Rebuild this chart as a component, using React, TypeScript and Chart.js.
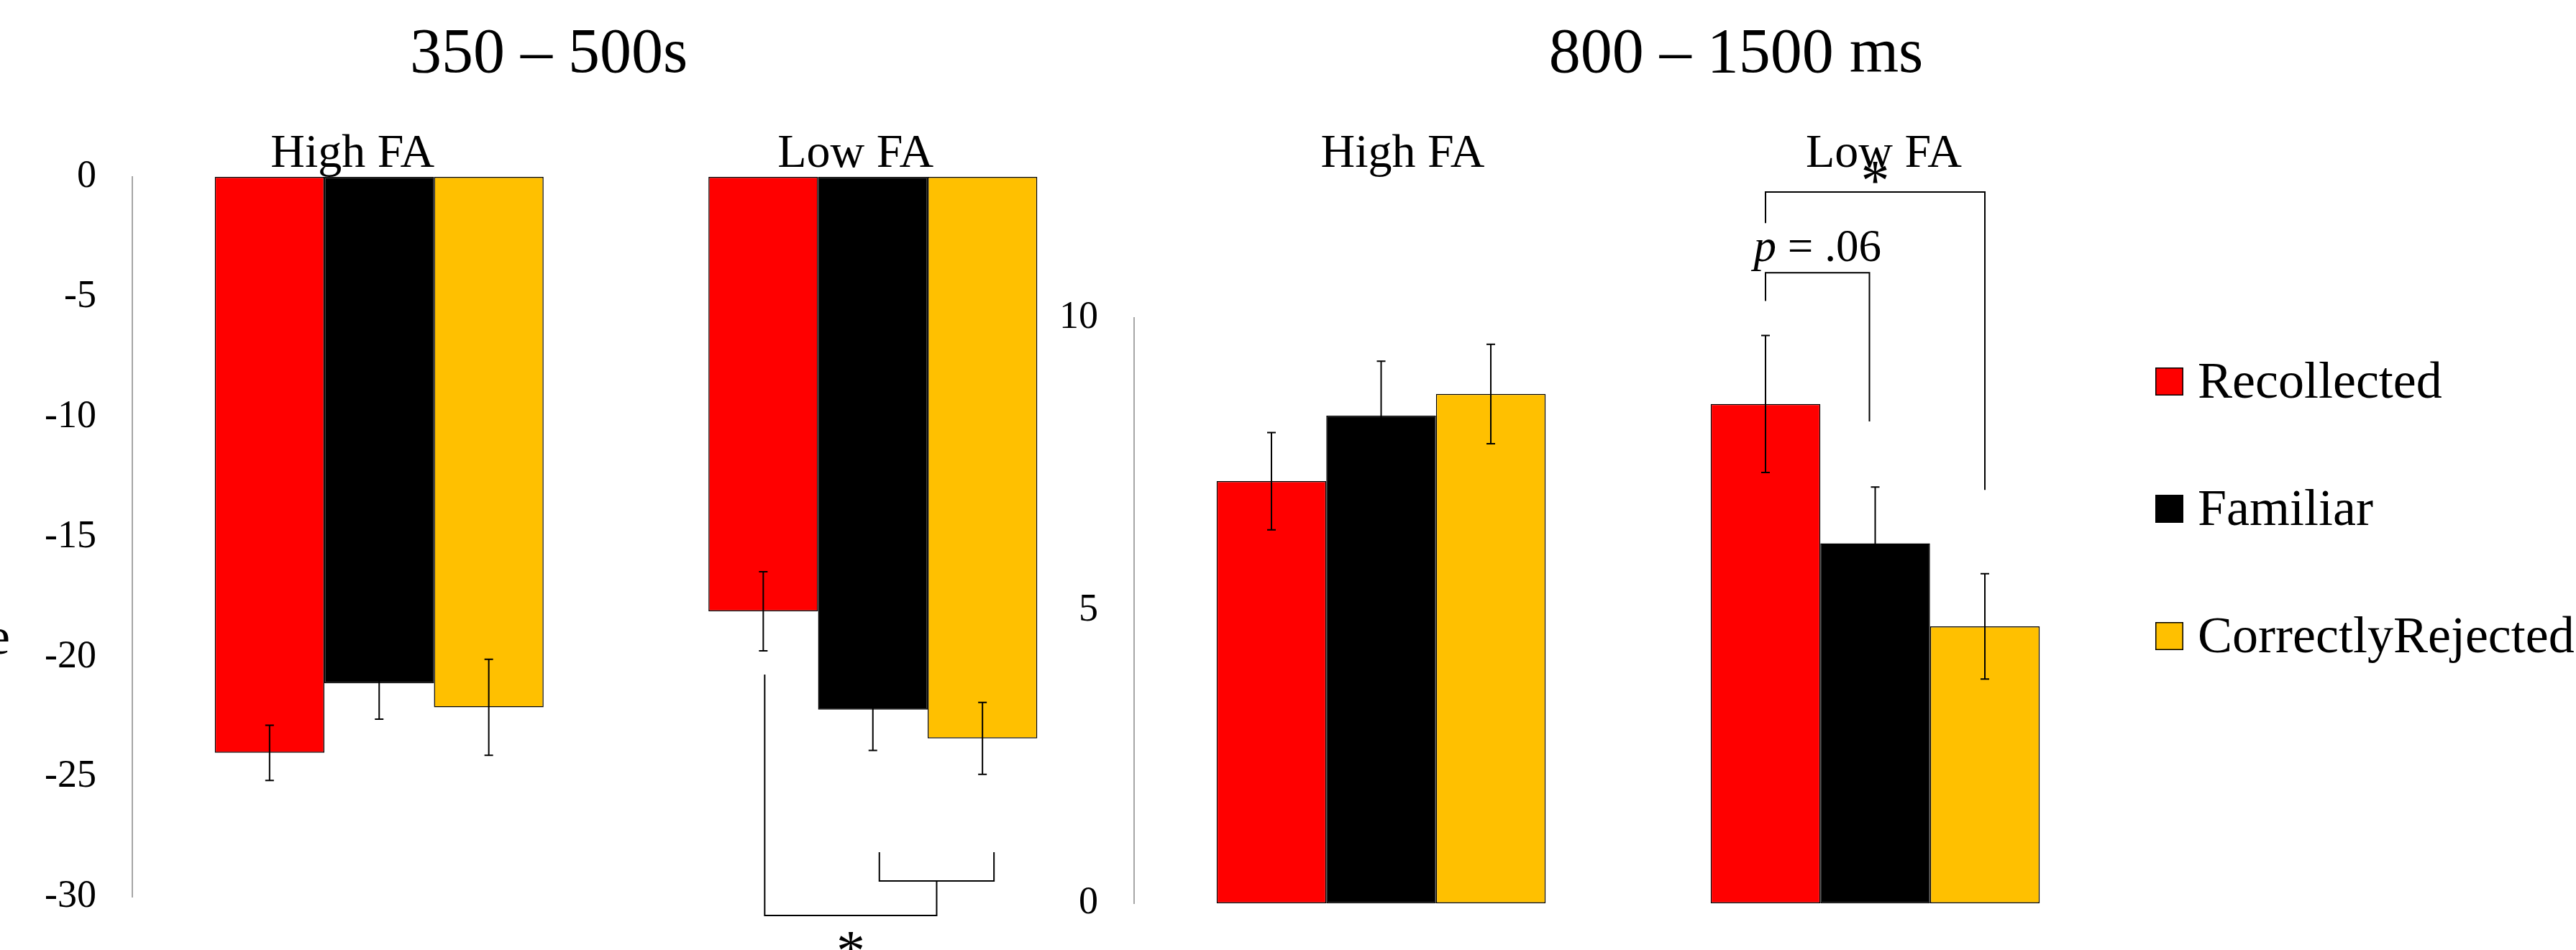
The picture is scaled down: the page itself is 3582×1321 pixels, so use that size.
import React, { useEffect, useRef } from "react";
import { Chart, registerables } from "chart.js";

Chart.register(...registerables);

// ---------------- data ----------------
const seriesNames = ["Recollected", "Familiar", "CorrectlyRejected"];
const seriesColors = ["#FF0000", "#000000", "#FFC000"];
const groupLabels = ["High FA", "Low FA"];

// 350 – 500 window (negative amplitudes)
const earlyRecollected = [-24.0, -18.1];
const earlyFamiliar = [-21.1, -22.2];
const earlyRejected = [-22.1, -23.4];
const earlyRecollectedSE = [1.15, 1.65];
const earlyFamiliarSE = [1.5, 1.7];
const earlyRejectedSE = [2.0, 1.5];

// 800 – 1500 ms window
const lateRecollected = [7.21, 8.53];
const lateFamiliar = [8.33, 6.15];
const lateRejected = [8.7, 4.73];
const lateRecollectedSE = [0.83, 1.17];
const lateFamiliarSE = [0.93, 0.96];
const lateRejectedSE = [0.85, 0.9];

const earlyAxis = { min: -30, max: 0, step: 5 };
const lateAxis = { min: 0, max: 10, step: 5 };

const earlyTitle = "350 – 500s";
const lateTitle = "800 – 1500 ms";
const axisTitle = "Amplitude";

// significance brackets (y values in axis units; ends refer to [group, series])
const earlyBrackets = [
  { from: [1, 1], to: [1, 2], y: -29.34, fromFoot: -28.14, toFoot: -28.14, label: "" },
  { from: [1, 0], to: "prev", y: -30.78, fromFoot: -20.74, toFoot: -29.34, label: "*" },
];
const lateBrackets = [
  { from: [1, 0], to: [1, 1], y: 10.77, fromFoot: 10.29, toFoot: 8.23, label: "p = .06" },
  { from: [1, 0], to: [1, 2], y: 12.15, fromFoot: 11.62, toFoot: 7.06, label: "*" },
];

// ---------------- layout ----------------
const W = 3582;
const H = 1321;
const SERIF = "'Liberation Serif', 'Times New Roman', serif";

type Panel = {
  values: number[][];
  errors: number[][];
  axis: { min: number; max: number; step: number };
  area: { left: number; right: number; top: number; bottom: number };
  title: string;
  titleX: number;
  labelDx: number[];
  bracketDx: number[][];
  brackets: any[];
  bracketLabelDy: number[];
  showLegend: boolean;
  showAxisTitle: boolean;
};

const earlyPanel: Panel = {
  values: [earlyRecollected, earlyFamiliar, earlyRejected],
  errors: [earlyRecollectedSE, earlyFamiliarSE, earlyRejectedSE],
  axis: earlyAxis,
  area: { left: 184, right: 1557, top: 246, bottom: 1247 },
  title: earlyTitle,
  titleX: 763,
  labelDx: [-37, -24],
  bracketDx: [[9, 16], [2, 0]],
  brackets: earlyBrackets,
  bracketLabelDy: [0, 76],
  showLegend: false,
  showAxisTitle: true,
};

const latePanel: Panel = {
  values: [lateRecollected, lateFamiliar, lateRejected],
  errors: [lateRecollectedSE, lateFamiliarSE, lateRejectedSE],
  axis: lateAxis,
  area: { left: 1577, right: 2951, top: 442, bottom: 1256 },
  title: lateTitle,
  titleX: 2414,
  labelDx: [30, 12],
  bracketDx: [[0, -8], [0, 0]],
  brackets: lateBrackets,
  bracketLabelDy: [-16, 11],
  showLegend: true,
  showAxisTitle: false,
};

function drawPLabel(ctx: CanvasRenderingContext2D, text: string, cx: number, y: number) {
  if (text.startsWith("p ")) {
    const rest = text.slice(1);
    ctx.font = `italic 63px ${SERIF}`;
    const w1 = ctx.measureText("p").width;
    ctx.font = `63px ${SERIF}`;
    const w2 = ctx.measureText(rest).width;
    const x0 = cx - (w1 + w2) / 2;
    ctx.textAlign = "left";
    ctx.font = `italic 63px ${SERIF}`;
    ctx.fillText("p", x0, y);
    ctx.font = `63px ${SERIF}`;
    ctx.fillText(rest, x0 + w1, y);
  } else {
    ctx.font = `80px ${SERIF}`;
    ctx.textAlign = "center";
    ctx.fillText(text, cx, y);
  }
}

function makeConfig(p: Panel): any {
  const overlay = {
    id: "overlay",
    afterDraw(chart: any) {
      const ctx: CanvasRenderingContext2D = chart.ctx;
      const yScale = chart.scales.y;
      const barX = (g: number, s: number) => chart.getDatasetMeta(s).data[g].x;
      ctx.save();
      ctx.fillStyle = "#000";
      ctx.strokeStyle = "#000";

      // error bars
      ctx.lineWidth = 2;
      p.values.forEach((vals, s) => {
        vals.forEach((v, g) => {
          const x = barX(g, s);
          const e = p.errors[s][g];
          const y1 = yScale.getPixelForValue(v + e);
          const y2 = yScale.getPixelForValue(v - e);
          ctx.beginPath();
          ctx.moveTo(x, y1);
          ctx.lineTo(x, y2);
          ctx.moveTo(x - 6, y1);
          ctx.lineTo(x + 6, y1);
          ctx.moveTo(x - 6, y2);
          ctx.lineTo(x + 6, y2);
          ctx.stroke();
        });
      });

      // group labels
      ctx.font = `66px ${SERIF}`;
      ctx.textAlign = "center";
      ctx.textBaseline = "alphabetic";
      groupLabels.forEach((lab, g) => {
        const cx = (barX(g, 0) + barX(g, seriesNames.length - 1)) / 2 + p.labelDx[g];
        ctx.fillText(lab, cx, 232);
      });

      // panel title
      ctx.font = `88px ${SERIF}`;
      ctx.textAlign = "center";
      ctx.fillText(p.title, p.titleX, 100);

      // brackets
      ctx.lineWidth = 2;
      let prevMid = 0;
      p.brackets.forEach((b: any, bi: number) => {
        const xa = barX(b.from[0], b.from[1]) + p.bracketDx[bi][0];
        const xb = b.to === "prev" ? prevMid : barX(b.to[0], b.to[1]) + p.bracketDx[bi][1];
        const y = yScale.getPixelForValue(b.y);
        const ya = yScale.getPixelForValue(b.fromFoot);
        const yb = yScale.getPixelForValue(b.toFoot);
        ctx.beginPath();
        ctx.moveTo(xa, ya);
        ctx.lineTo(xa, y);
        ctx.lineTo(xb, y);
        ctx.lineTo(xb, yb);
        ctx.stroke();
        const mid = (xa + xb) / 2;
        if (b.label) drawPLabel(ctx, b.label, mid, y + p.bracketLabelDy[bi]);
        prevMid = mid;
      });

      // legend
      if (p.showLegend) {
        chart.data.datasets.forEach((ds: any, i: number) => {
          const top = 511 + i * 177;
          ctx.fillStyle = ds.backgroundColor;
          ctx.fillRect(2997, top, 39, 39);
          ctx.lineWidth = 1.5;
          ctx.strokeStyle = "#000";
          ctx.strokeRect(2997.75, top + 0.75, 37.5, 37.5);
          ctx.fillStyle = "#000";
          ctx.font = `72px ${SERIF}`;
          ctx.textAlign = "left";
          ctx.fillText(ds.label, 3056, 553 + i * 177);
        });
      }

      if (p.showAxisTitle) {
        ctx.fillStyle = "#000";
        ctx.font = `72px ${SERIF}`;
        ctx.textAlign = "right";
        ctx.fillText(axisTitle, 14, 909);
      }
      ctx.restore();
    },
  };

  return {
    type: "bar",
    data: {
      labels: groupLabels,
      datasets: seriesNames.map((name, s) => ({
        label: name,
        data: p.values[s],
        backgroundColor: seriesColors[s],
        borderColor: "#000",
        borderWidth: 1.5,
        borderSkipped: false,
        barPercentage: 1,
        categoryPercentage: 0.666,
      })),
    },
    options: {
      responsive: false,
      animation: false,
      devicePixelRatio: 1,
      layout: {
        padding: {
          left: 0,
          top: p.area.top,
          right: W - p.area.right,
          bottom: H - p.area.bottom,
        },
      },
      plugins: {
        legend: { display: false },
        tooltip: { enabled: false },
        title: { display: false },
      },
      scales: {
        x: { display: false },
        y: {
          min: p.axis.min,
          max: p.axis.max,
          ticks: {
            stepSize: p.axis.step,
            padding: 50,
            color: "#000",
            font: { family: SERIF, size: 54 },
          },
          grid: { display: false, drawTicks: false },
          border: { display: true, color: "#A6A6A6", width: 2 },
          afterFit: (scale: any) => {
            scale.width = p.area.left;
            scale.paddingTop = 0;
            scale.paddingBottom = 0;
          },
        },
      },
    },
    plugins: [overlay],
  };
}

export default function App() {
  const leftRef = useRef<HTMLCanvasElement>(null);
  const rightRef = useRef<HTMLCanvasElement>(null);

  useEffect(() => {
    const c1 = new Chart(leftRef.current as HTMLCanvasElement, makeConfig(earlyPanel));
    const c2 = new Chart(rightRef.current as HTMLCanvasElement, makeConfig(latePanel));
    return () => {
      c1.destroy();
      c2.destroy();
    };
  }, []);

  const canvasStyle: React.CSSProperties = {
    position: "absolute",
    left: 0,
    top: 0,
    width: W,
    height: H,
  };

  return (
    <div
      style={{
        position: "fixed",
        left: 0,
        top: 0,
        width: W,
        height: H,
        background: "#fff",
        overflow: "hidden",
      }}
    >
      <canvas ref={leftRef} width={W} height={H} style={canvasStyle} />
      <canvas ref={rightRef} width={W} height={H} style={canvasStyle} />
    </div>
  );
}
